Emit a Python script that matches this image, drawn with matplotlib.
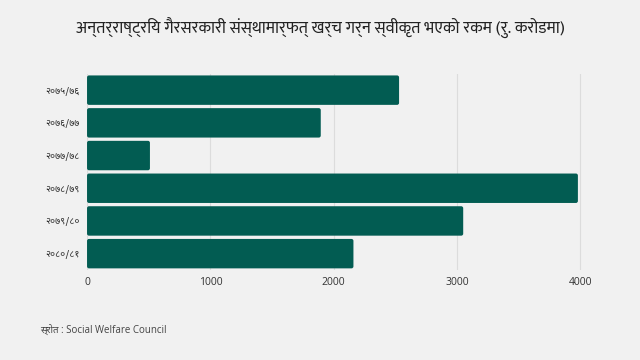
import matplotlib
matplotlib.use("Agg")
import matplotlib.pyplot as plt
from matplotlib.patches import FancyBboxPatch

years = ['२०७५/७६', '२०७६/७७', '२०७७/७८', '२०७८/७९', '२०७९/८०', '२०८०/८१']
amounts = [2530, 1895, 510, 3980, 3050, 2160]

title = 'अन्तर्राष्ट्रिय गैरसरकारी संस्थामार्फत् खर्च गर्न स्वीकृत भएको रकम (रु. करोडमा)'
source = 'स्रोत : Social Welfare Council'

bg = '#f1f1f1'
bar_col = '#025c52'
fonts = ['Noto Sans Devanagari', 'Mukta', 'DejaVu Sans']
title_fonts = ['Mukta', 'Noto Sans Devanagari', 'DejaVu Sans']
latin_fonts = ['Open Sans', 'Noto Sans Devanagari', 'DejaVu Sans']

fig = plt.figure(figsize=(6.4, 3.6), dpi=100, facecolor=bg)
ax = fig.add_axes([0.136, 0.25, 0.819, 0.545], facecolor=bg)

ypos = list(range(len(years)))
bars = ax.barh(ypos, amounts, height=0.9, color=bar_col)
ax.set_ylim(len(years) - 0.5, -0.5)
ax.set_xlim(0, 4250)

# swap plain bars for slightly rounded ones
px_x = 4250 / (0.819 * 640)
px_y = 6 / (0.545 * 360)
for b in bars:
    x, y = b.get_x(), b.get_y()
    w, h = b.get_width(), b.get_height()
    b.set_visible(False)
    ax.add_patch(FancyBboxPatch((x, y), w, h,
                                boxstyle="round,pad=0,rounding_size=%f" % (2 * px_x),
                                mutation_aspect=px_y / px_x,
                                fc=bar_col, ec='none', zorder=3))

ax.set_xticks([0, 1000, 2000, 3000, 4000])
ax.set_xticklabels(['0', '1000', '2000', '3000', '4000'], family=latin_fonts)
ax.set_yticks(ypos)
ax.set_yticklabels(years, family=fonts, fontsize=7, color='#333333')
ax.tick_params(axis='x', labelsize=7.5, colors='#333333', length=0, pad=5)
ax.tick_params(axis='y', length=0, pad=5)
ax.grid(axis='x', color='#dcdcdc', lw=0.8, zorder=0)
ax.set_axisbelow(True)
for s in ax.spines.values():
    s.set_visible(False)

fig.text(0.5, 0.922, title, ha='center', va='center', fontsize=12,
         family=title_fonts, color='#222222')
fig.text(0.062, 0.083, source, ha='left', va='center', fontsize=7,
         family=latin_fonts, color='#444444')

fig.savefig('out.png', facecolor=bg)
